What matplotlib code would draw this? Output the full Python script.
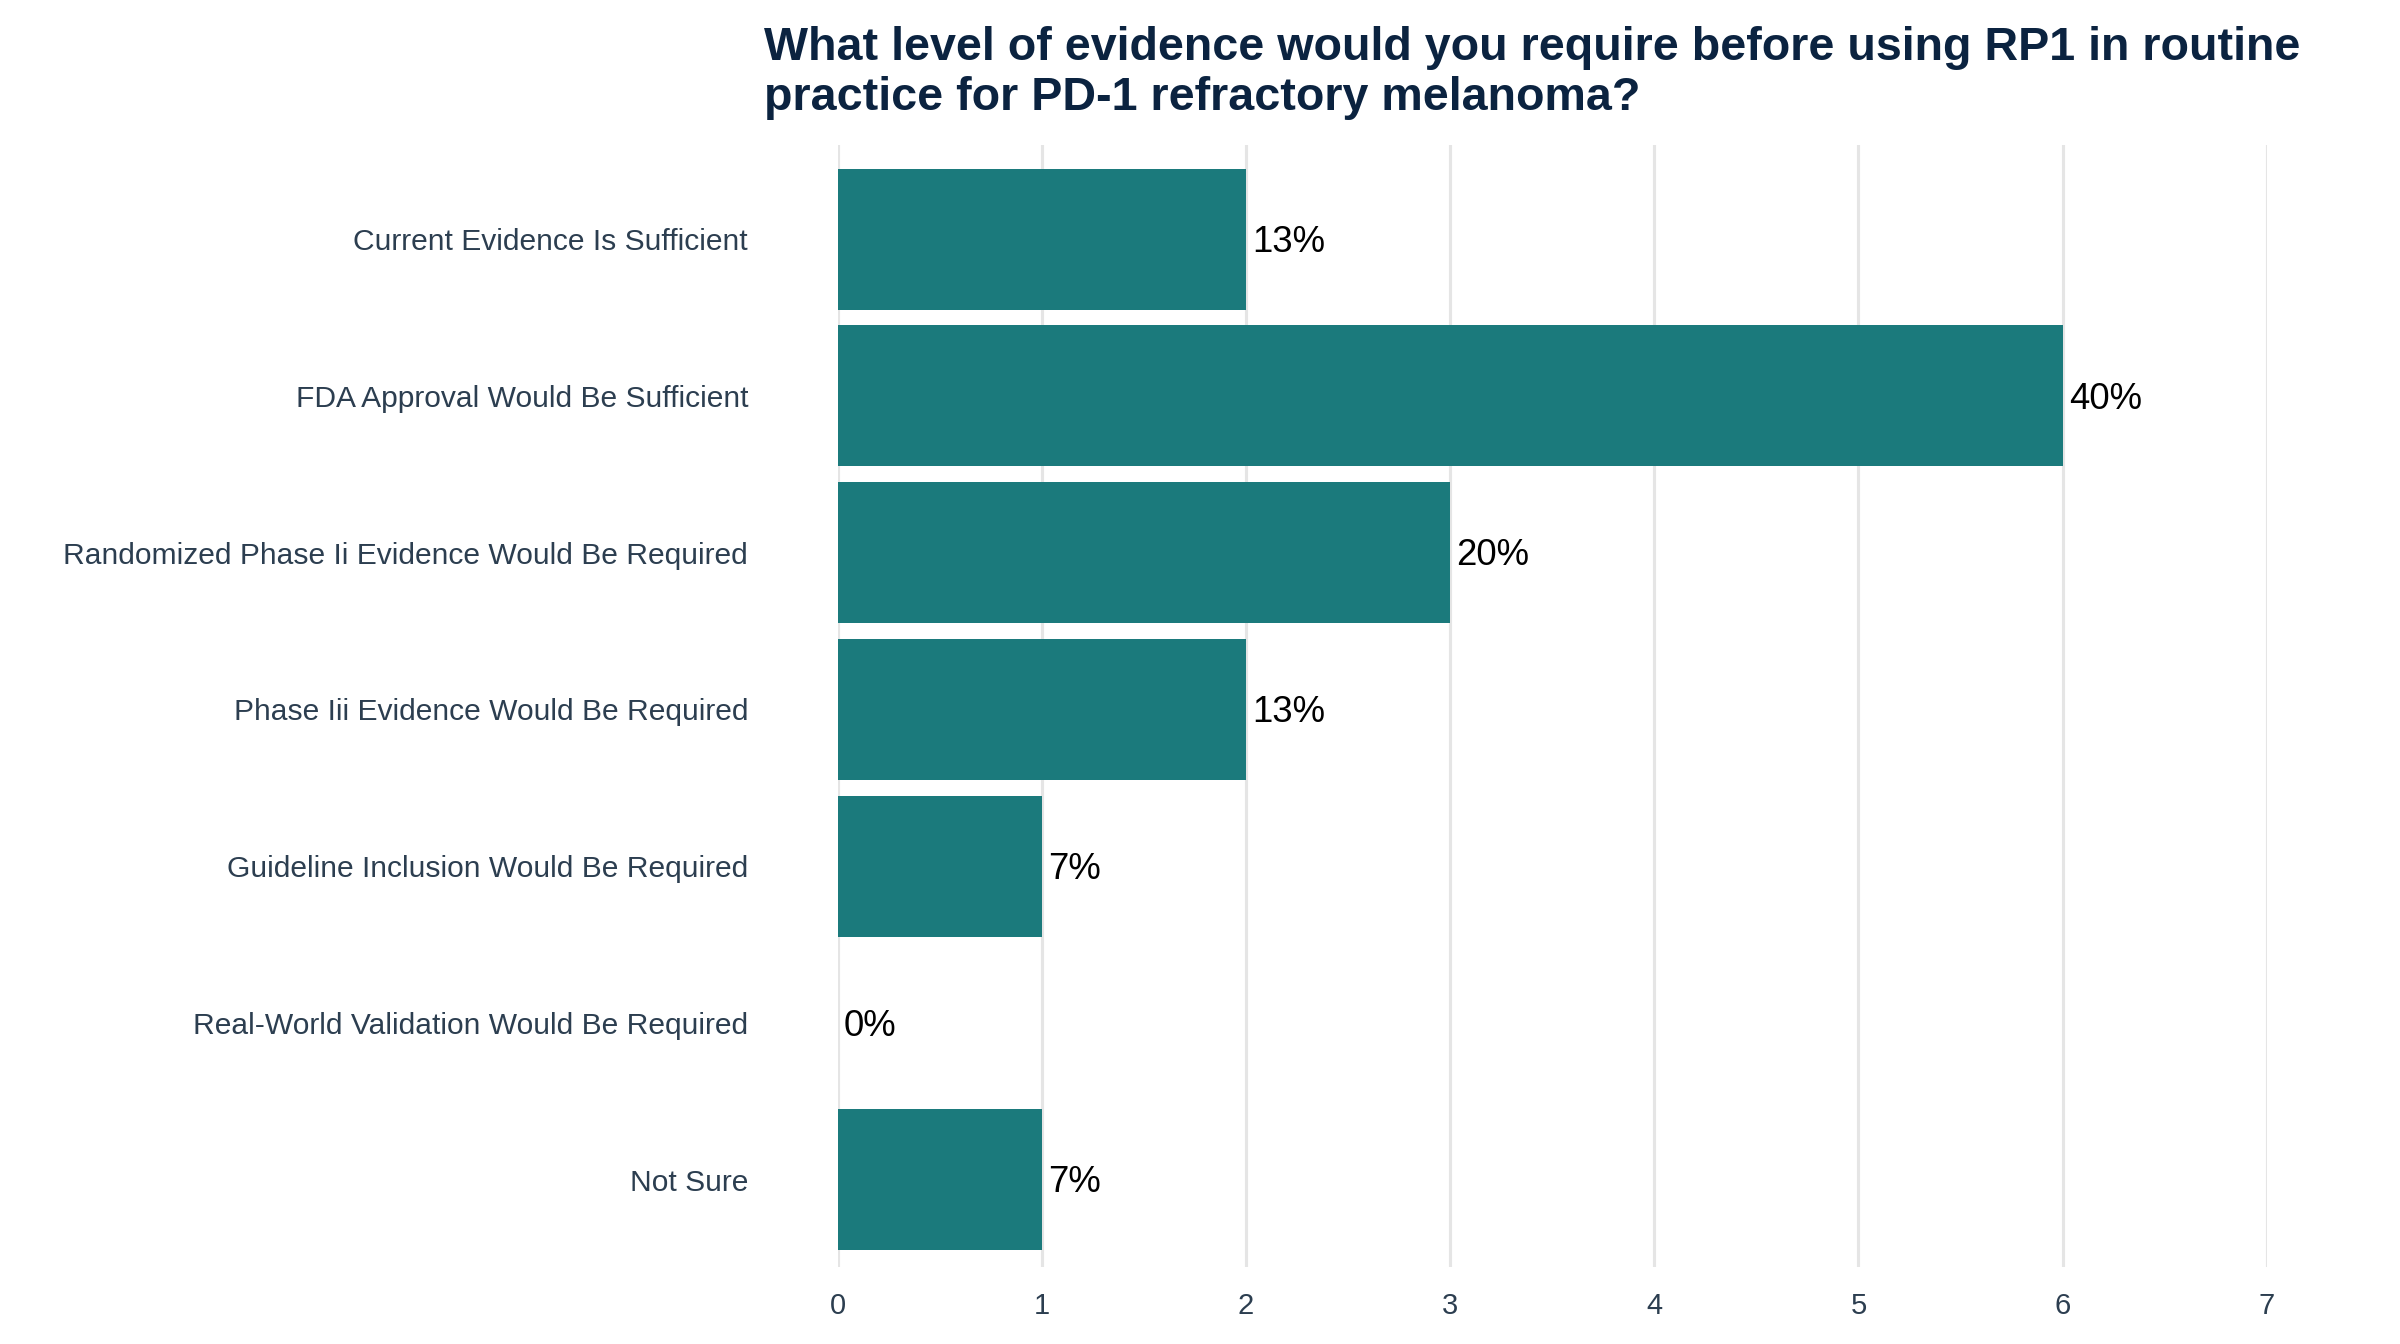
import matplotlib.pyplot as plt

plt.rcParams.update({"font.family": ["Liberation Sans", "DejaVu Sans"]})

categories = [
    "Current Evidence Is Sufficient",
    "FDA Approval Would Be Sufficient",
    "Randomized Phase Ii Evidence Would Be Required",
    "Phase Iii Evidence Would Be Required",
    "Guideline Inclusion Would Be Required",
    "Real-World Validation Would Be Required",
    "Not Sure",
]
counts = [2, 6, 3, 2, 1, 0, 1]
pct_labels = ["13%", "40%", "20%", "13%", "7%", "0%", "7%"]
x_ticks = [0, 1, 2, 3, 4, 5, 6, 7]

title = ("What level of evidence would you require before using RP1 in routine\n"
         "practice for PD-1 refractory melanoma?")

bar_color = "#1B7A7C"
text_color = "#2C3E50"

fig = plt.figure(figsize=(16, 8.96), dpi=150)
ax = fig.add_axes([0.349, 0.057, 0.5955, 0.835])

ypos = list(range(len(categories)))
ax.barh(ypos, counts, height=0.9, color=bar_color, zorder=2)

for y, c, lab in zip(ypos, counts, pct_labels):
    ax.text(c + 0.03, y + 0.02, lab, va="center", ha="left", fontsize=17.5,
            color="black", zorder=3)

ax.set_yticks(ypos)
ax.set_yticklabels(categories, fontsize=14.4, color=text_color)
ax.set_xticks(x_ticks)
ax.set_xticklabels([str(t) for t in x_ticks], fontsize=14, color=text_color)
ax.set_xlim(0, 7)
ax.set_ylim(len(categories) - 0.44, -0.6)

ax.tick_params(axis="x", length=0, pad=12)
ax.tick_params(axis="y", length=0, pad=43)
ax.grid(axis="x", color="#E5E5E5", linewidth=1.5, zorder=0)
ax.grid(axis="y", visible=False)
for s in ax.spines.values():
    s.set_visible(False)

fig.text(0.3183, 0.981, title, ha="left", va="top", fontsize=22.4, fontweight="bold",
         color="#0B2340", linespacing=1.2)

fig.savefig("out.png", dpi=150)
